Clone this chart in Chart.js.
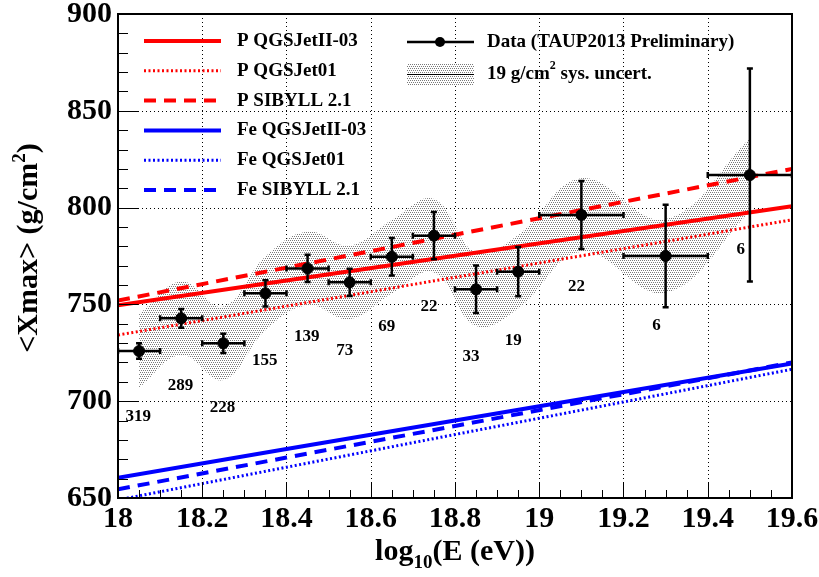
<!DOCTYPE html>
<html>
<head>
<meta charset="utf-8">
<script src="https://cdn.jsdelivr.net/npm/chart.js@4.4.0/dist/chart.umd.min.js"></script>
<style>
  html, body { margin: 0; padding: 0; background: #fff; }
</style>
</head>
<body>
<canvas id="xmaxChart" width="819" height="577"></canvas>
<script>
// Measured <Xmax> per energy bin
const binCenters    = [18.05, 18.15, 18.25, 18.35, 18.45, 18.55, 18.65, 18.75, 18.85, 18.95, 19.1, 19.3, 19.5];
const binHalfWidths = [0.05, 0.05, 0.05, 0.05, 0.05, 0.05, 0.05, 0.05, 0.05, 0.05, 0.1, 0.1, 0.1];
const xmaxMean      = [725.9, 742.8, 729.9, 755.7, 768.6, 761.4, 774.6, 785.5, 757.8, 766.9, 796.2, 775.0, 816.8];
const xmaxStatErr   = [4.0, 4.8, 5.0, 6.8, 7.0, 7.0, 9.7, 12.2, 12.3, 12.7, 17.6, 26.5, 55.0];
const sysUncert = 19;

// number of events per bin, and where the number sits (in g/cm2)
const eventCounts = ['319', '289', '228', '155', '139', '73', '69', '22', '33', '19', '22', '6', '6'];
const countY      = [692.0, 707.9, 696.5, 720.8, 733.2, 726.1, 738.5, 748.8, 723.0, 731.2, 759.1, 738.8, 778.5];

// model predictions
const modelE    = [18.0, 18.4, 18.8, 19.2, 19.6];
const pQgsII    = [749.5, 762.3, 775.1, 787.9, 800.7];
const pQgs01    = [734.2, 749.1, 764.0, 778.8, 793.7];
const pSibyll   = [752.0, 769.0, 786.0, 803.0, 820.0];
const feQgsII   = [660.5, 675.3, 690.0, 704.8, 719.5];
const feQgs01   = [649.0, 665.9, 682.8, 699.6, 716.5];
const feSibyll  = [654.5, 670.9, 687.2, 703.6, 720.0];

const xTickLabels = ['18', '18.2', '18.4', '18.6', '18.8', '19', '19.2', '19.4', '19.6'];
const yTickLabels = ['650', '700', '750', '800', '850', '900'];

const FONT = '"Liberation Serif", "Times New Roman", serif';

function pts(xs, ys) {
  return xs.map((x, i) => ({ x: x, y: ys[i] }));
}

// dotted fill like ROOT's hatch style
function dotPattern() {
  const c = document.createElement('canvas');
  c.width = 4; c.height = 4;
  const g = c.getContext('2d');
  g.fillStyle = '#fff';
  g.fillRect(0, 0, 4, 4);
  g.fillStyle = '#7a7a7a';
  g.fillRect(0, 0, 1, 1);
  g.fillRect(2, 0, 1, 1);
  g.fillRect(1, 2, 1, 1);
  g.fillRect(3, 2, 1, 1);
  return g.createPattern(c, 'repeat');
}
const bandFill = dotPattern();

function modelLine(label, xs, ys, color, dash, width) {
  return {
    type: 'line', label: label, data: pts(xs, ys),
    borderColor: color, borderWidth: width, borderDash: dash,
    pointRadius: 0, fill: false, tension: 0, order: 1, legend: true
  };
}

// draws text made of pieces (for sub/superscripts)
function drawRich(ctx, parts, x, y, align) {
  let total = 0;
  parts.forEach(p => {
    ctx.font = 'bold ' + p.size + 'px ' + FONT;
    p.w = ctx.measureText(p.t).width;
    total += p.w;
  });
  let cx = align === 'center' ? x - total / 2 : x;
  ctx.textAlign = 'left';
  parts.forEach(p => {
    ctx.font = 'bold ' + p.size + 'px ' + FONT;
    ctx.fillText(p.t, cx, y + (p.dy || 0));
    cx += p.w;
  });
}

const rootStyle = {
  id: 'rootStyle',
  beforeDatasetsDraw(chart) {
    const { ctx, chartArea: a, scales: { x, y } } = chart;
    ctx.save();
    ctx.strokeStyle = '#000';
    ctx.lineWidth = 1;
    ctx.setLineDash([1, 3]);
    for (let i = 1; i < 8; i++) {
      const px = Math.round(x.getPixelForValue(18 + i * 0.2)) + 0.5;
      ctx.beginPath(); ctx.moveTo(px, a.top); ctx.lineTo(px, a.bottom); ctx.stroke();
    }
    for (let v = 700; v < 900; v += 50) {
      const py = Math.round(y.getPixelForValue(v)) + 0.5;
      ctx.beginPath(); ctx.moveTo(a.left, py); ctx.lineTo(a.right, py); ctx.stroke();
    }
    ctx.restore();
  },
  afterDatasetsDraw(chart) {
    const { ctx, chartArea: a, scales: { x, y } } = chart;
    ctx.save();
    ctx.beginPath();
    ctx.rect(a.left, a.top, a.right - a.left, a.bottom - a.top);
    ctx.clip();
    ctx.strokeStyle = '#000';
    ctx.lineWidth = 2.5;
    const cap = 3;
    binCenters.forEach((c, i) => {
      const px = x.getPixelForValue(c);
      const py = y.getPixelForValue(xmaxMean[i]);
      const x0 = x.getPixelForValue(c - binHalfWidths[i]);
      const x1 = x.getPixelForValue(c + binHalfWidths[i]);
      const y0 = y.getPixelForValue(xmaxMean[i] + xmaxStatErr[i]);
      const y1 = y.getPixelForValue(xmaxMean[i] - xmaxStatErr[i]);
      ctx.beginPath();
      ctx.moveTo(x0, py); ctx.lineTo(x1, py);
      ctx.moveTo(px, y0); ctx.lineTo(px, y1);
      ctx.moveTo(x0, py - cap); ctx.lineTo(x0, py + cap);
      ctx.moveTo(x1, py - cap); ctx.lineTo(x1, py + cap);
      ctx.moveTo(px - cap, y0); ctx.lineTo(px + cap, y0);
      ctx.moveTo(px - cap, y1); ctx.lineTo(px + cap, y1);
      ctx.stroke();
    });
    ctx.restore();
  },
  afterDraw(chart) {
    const { ctx, chartArea: a, scales: { x, y } } = chart;
    ctx.save();
    ctx.fillStyle = '#000';
    ctx.strokeStyle = '#000';

    // event counts under the points
    ctx.font = 'bold 17px ' + FONT;
    ctx.textAlign = 'left';
    ctx.textBaseline = 'middle';
    eventCounts.forEach((t, i) => {
      ctx.fillText(t, x.getPixelForValue(binCenters[i]) - 13.5, y.getPixelForValue(countY[i]));
    });

    // frame
    ctx.lineWidth = 2;
    ctx.strokeRect(a.left, a.top, a.right - a.left, a.bottom - a.top);

    // ticks, pointing inside
    ctx.lineWidth = 1;
    ctx.beginPath();
    for (let i = 1; i < 32; i++) {
      const px = Math.round(x.getPixelForValue(18 + i * 0.05)) + 0.5;
      const len = i % 4 === 0 ? 16 : 8;
      ctx.moveTo(px, a.bottom); ctx.lineTo(px, a.bottom - len);
    }
    for (let v = 660; v < 900; v += 10) {
      const py = Math.round(y.getPixelForValue(v)) + 0.5;
      const len = v % 50 === 0 ? 20 : 10;
      ctx.moveTo(a.left, py); ctx.lineTo(a.left + len, py);
    }
    ctx.stroke();

    // tick labels
    ctx.font = 'bold 30px ' + FONT;
    ctx.textAlign = 'center';
    ctx.textBaseline = 'alphabetic';
    xTickLabels.forEach(t => {
      ctx.fillText(t, x.getPixelForValue(parseFloat(t)), a.bottom + 29);
    });
    ctx.textAlign = 'right';
    ctx.textBaseline = 'middle';
    yTickLabels.forEach(t => {
      ctx.fillText(t, a.left - 6, y.getPixelForValue(parseFloat(t)));
    });

    // axis titles
    ctx.textBaseline = 'alphabetic';
    drawRich(ctx, [
      { t: 'log', size: 30 },
      { t: '10', size: 19, dy: 8 },
      { t: '(E (eV))', size: 30 }
    ], (a.left + a.right) / 2, 560, 'center');

    ctx.save();
    ctx.translate(37, 248);
    ctx.rotate(-Math.PI / 2);
    drawRich(ctx, [
      { t: '<Xmax> (g/cm', size: 30 },
      { t: '2', size: 19, dy: -12 },
      { t: ')', size: 30 }
    ], 0, 0, 'center');
    ctx.restore();

    // legend, left column: model lines
    ctx.font = 'bold 19px ' + FONT;
    ctx.textAlign = 'left';
    ctx.textBaseline = 'middle';
    const models = chart.data.datasets.filter(d => d.legend);
    models.forEach((d, i) => {
      const ly = 41 + i * 29.8;
      ctx.save();
      ctx.strokeStyle = d.borderColor;
      ctx.lineWidth = d.borderWidth;
      ctx.setLineDash(d.borderDash);
      ctx.beginPath(); ctx.moveTo(144, ly); ctx.lineTo(221, ly); ctx.stroke();
      ctx.restore();
      ctx.fillText(d.label, 237, ly);
    });

    // legend, right column: data and systematic band
    ctx.lineWidth = 2.5;
    ctx.beginPath(); ctx.moveTo(407, 42); ctx.lineTo(474, 42); ctx.stroke();
    ctx.beginPath(); ctx.arc(440, 42, 5, 0, Math.PI * 2); ctx.fill();
    ctx.fillText('Data (TAUP2013 Preliminary)', 487, 42);

    ctx.fillStyle = bandFill;
    ctx.fillRect(407, 64, 67, 21);
    ctx.fillStyle = '#000';
    ctx.lineWidth = 1;
    ctx.beginPath(); ctx.moveTo(407, 74.5); ctx.lineTo(474, 74.5); ctx.stroke();
    drawRich(ctx, [
      { t: '19 g/cm', size: 19 },
      { t: '2', size: 12, dy: -8 },
      { t: ' sys. uncert.', size: 19 }
    ], 487, 74, 'left');

    ctx.restore();
  }
};

const datasets = [
  {
    type: 'scatter', label: 'Data', data: pts(binCenters, xmaxMean),
    pointRadius: 5.5, pointBackgroundColor: '#000', pointBorderColor: '#000', order: 0
  },
  modelLine('P QGSJetII-03', modelE, pQgsII, '#ff0000', [], 4),
  modelLine('P QGSJet01', modelE, pQgs01, '#ff0000', [2, 2.5], 3),
  modelLine('P SIBYLL 2.1', modelE, pSibyll, '#ff0000', [12, 8], 4),
  modelLine('Fe QGSJetII-03', modelE, feQgsII, '#0000ff', [], 4),
  modelLine('Fe QGSJet01', modelE, feQgs01, '#0000ff', [2, 2.5], 3),
  modelLine('Fe SIBYLL 2.1', modelE, feSibyll, '#0000ff', [12, 8], 4),
  {
    type: 'line', label: 'sys upper',
    data: pts(binCenters, xmaxMean.map(v => v + sysUncert)),
    borderWidth: 0, pointRadius: 0, fill: false, tension: 0.4, order: 2
  },
  {
    type: 'line', label: 'sys lower',
    data: pts(binCenters, xmaxMean.map(v => v - sysUncert)),
    borderWidth: 0, pointRadius: 0, fill: '-1', backgroundColor: bandFill,
    tension: 0.4, order: 2
  }
];

new Chart(document.getElementById('xmaxChart'), {
  type: 'scatter',
  data: { datasets: datasets },
  options: {
    responsive: false,
    animation: false,
    layout: { padding: { left: 118, top: 14, right: 27, bottom: 79 } },
    plugins: {
      legend: { display: false },
      tooltip: { enabled: false }
    },
    scales: {
      x: { type: 'linear', min: 18, max: 19.6, display: false },
      y: { type: 'linear', min: 650, max: 900, display: false }
    }
  },
  plugins: [rootStyle]
});
</script>
</body>
</html>
